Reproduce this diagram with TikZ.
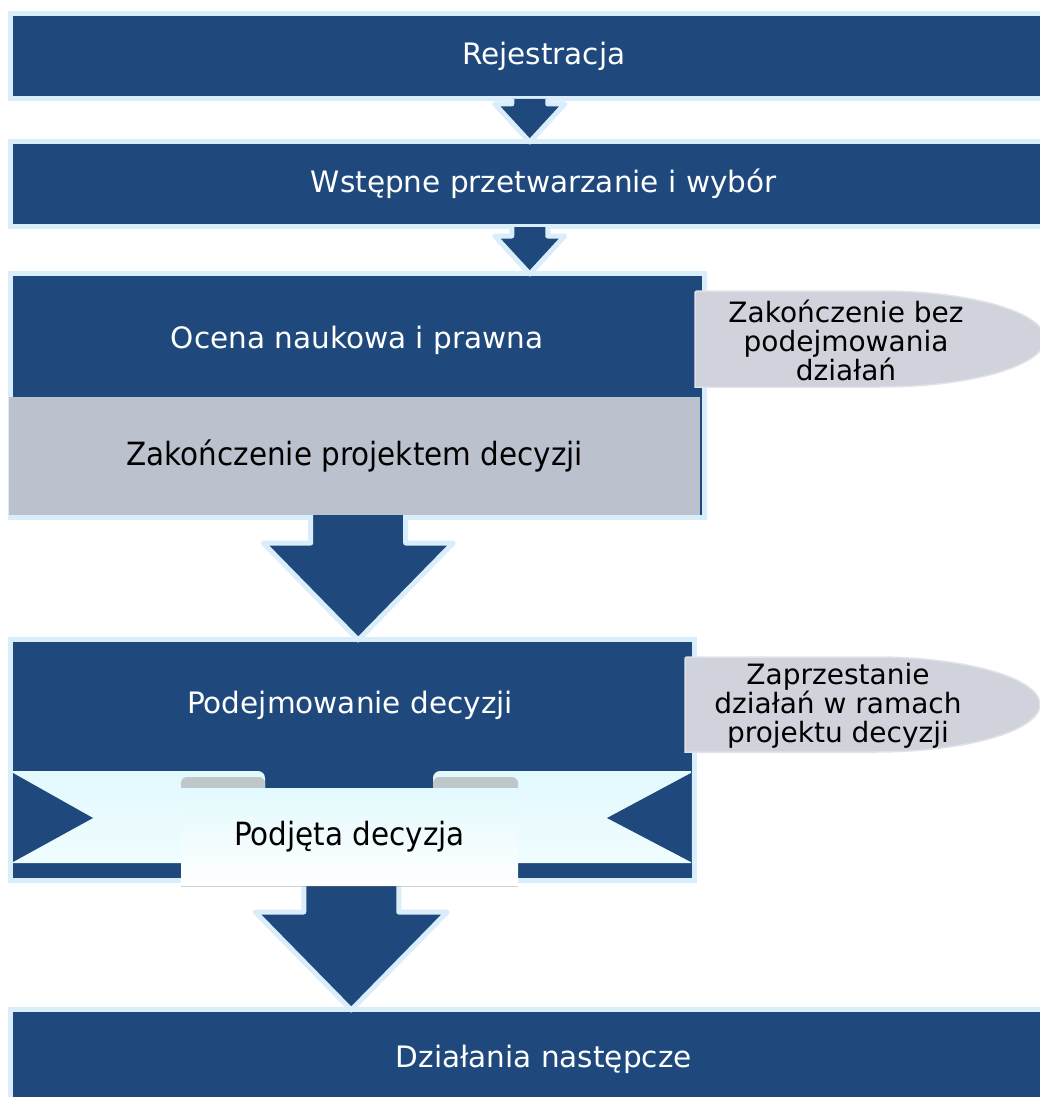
\documentclass[tikz,border=0pt]{standalone}
\usepackage{fontspec}
\setmainfont{DejaVu Sans}
\newfontfamily\narrowfont[FakeStretch=0.92]{DejaVu Sans}
\usepackage{tikz}
\usetikzlibrary{calc, shadows}
\definecolor{navy}{RGB}{31,73,125}
\definecolor{paleblue}{RGB}{217,237,250}
\definecolor{draftgray}{RGB}{188,193,206}
\definecolor{tabgray}{RGB}{208,211,220}
\definecolor{tabedge}{RGB}{224,226,232}
\definecolor{ribbontop}{RGB}{226,249,253}
\definecolor{ribbonlow}{RGB}{240,253,255}
\definecolor{eargray}{RGB}{190,200,200}
\tikzset{
  stagebox/.style={rectangle, fill=navy, draw=paleblue, line width=5pt,
    text=white, font={\fontsize{29.5}{34}\selectfont}, inner sep=0pt},
  framebox/.style={rectangle, fill=navy, draw=paleblue, line width=5pt, inner sep=0pt},
  whitelabel/.style={text=white, font={\fontsize{29.5}{34}\selectfont}, inner sep=0pt},
  draftbox/.style={rectangle, fill=draftgray, inner sep=0pt,
    font={\narrowfont\fontsize{32}{36}\selectfont}},
  tabshape/.style={fill=tabgray, draw=tabedge, line width=1.5pt},
  tablabel/.style={align=center, font={\fontsize{28}{29}\selectfont}, inner sep=0pt},
  arrowbody/.style={fill=navy, draw=paleblue, line width=5pt, line join=round},
  scrollpiece/.style={rectangle, top color=ribbontop, bottom color=white,
    draw=none, inner sep=0pt, font={\narrowfont\fontsize{32}{36}\selectfont},
    drop shadow={opacity=0.35, shadow xshift=0pt, shadow yshift=-2pt}},
}
% block arrow: start, target node anchor, stem half, head half, head length
\newcommand{\blockarrow}[5]{%
  \path (#1) coordinate (ba-s) (#2 -| ba-s) coordinate (ba-e);
  \filldraw[arrowbody] ($(ba-s)+(-#3,0)$) -- ($(ba-e)+(-#3,3-#5)$)
    -- ($(ba-e)+(-#4,3-#5)$) -- ($(ba-e)+(0,3)$) -- ($(ba-e)+(#4,3-#5)$)
    -- ($(ba-e)+(#3,3-#5)$) -- ($(ba-s)+(#3,0)$);
}
\begin{document}
\begin{tikzpicture}[x=1pt, y=-1pt]
  \useasboundingbox[fill=white] (0,0) rectangle (1039,1097);
  % top stages
  \node[stagebox, minimum width=1066.5, minimum height=85] (reg) at (543.75,56) {Rejestracja};
  \node[stagebox, minimum width=1066.5, minimum height=85] (prep) at (543.75,184) {Wstępne przetwarzanie i wybór};
  \node[stagebox, minimum width=1066.5, minimum height=100] (follow) at (543.75,1059.5) {Działania następcze};
  \blockarrow{$(reg.south)+(-14,-2)$}{prep.north}{18}{35}{38}
  % scientific and legal assessment
  \node[framebox, minimum width=693.5, minimum height=243.5] (evalframe) at (357.25,395.25) {};
  \node[draftbox, minimum width=691, minimum height=118, anchor=south west] (draftend) at (9,515) {Zakończenie projektem decyzji};
  \node[whitelabel] (eval) at (357,340) {Ocena naukowa i prawna};
  \blockarrow{$(prep.south)+(-14,-2)$}{evalframe.north}{18}{35}{38}
  \filldraw[tabshape, rounded corners=2pt] (695,387) -- (695,291) [sharp corners] -- (880,291)
    arc[start angle=90, end angle=-90, x radius=165pt, y radius=48pt] -- cycle;
  \node[tablabel] (noaction) at (846,340) {Zakończenie bez\\podejmowania\\działań};
  % decision making
  \node[framebox, minimum width=683.5, minimum height=241] (decframe) at (352.25,760) {};
  \blockarrow{$(draftend.south)+(3.5,0)$}{decframe.north}{47.5}{95}{97}
  \node[whitelabel] (decide) at (350,705) {Podejmowanie decyzji};
  \blockarrow{$(decframe.south)+(-1,-3)$}{follow.north}{47.5}{96}{98}
  % ribbon
  \shade[top color=ribbontop, bottom color=ribbonlow] (13,863) -- (13,771)
    [rounded corners=7pt] -- (265,771) [sharp corners] -- (265,863) -- cycle;
  \shade[top color=ribbontop, bottom color=ribbonlow] (691,863) -- (691,771)
    [rounded corners=7pt] -- (433,771) [sharp corners] -- (433,863) -- cycle;
  \fill[navy] (13,773) -- (93,818) -- (13,862) -- cycle;
  \fill[navy] (691,773) -- (607,818) -- (691,862) -- cycle;
  \fill[eargray, rounded corners=6pt] (181,777) rectangle (265,798);
  \fill[eargray, rounded corners=6pt] (433,777) rectangle (518,798);
  \node[scrollpiece, minimum width=337, minimum height=97] (taken) at (349.5,836.5) {Podjęta decyzja};
  \filldraw[tabshape, rounded corners=2pt] (685,752) -- (685,657) [sharp corners] -- (875,657)
    arc[start angle=90, end angle=-90, x radius=165pt, y radius=47.5pt] -- cycle;
  \node[tablabel] (stopdraft) at (838,706) {Zaprzestanie\\działań w ramach\\projektu decyzji};
\end{tikzpicture}
\end{document}
